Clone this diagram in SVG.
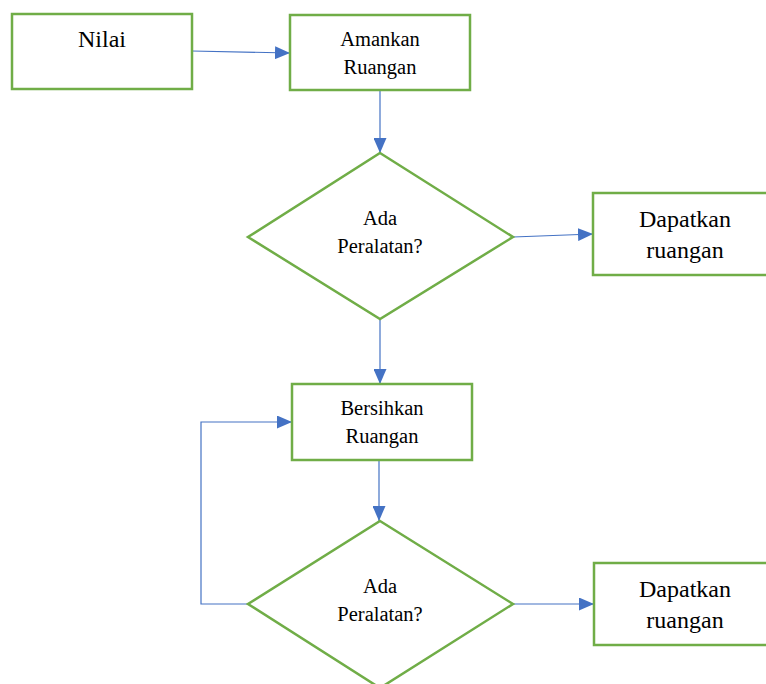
<svg xmlns="http://www.w3.org/2000/svg" width="766" height="684" viewBox="0 0 766 684">
<style>
.box{fill:#fff;stroke:#70AD47;stroke-width:2.5}
.con{fill:none;stroke:#4472C4;stroke-width:1.2}
.t{fill:#000;text-anchor:middle;font-family:'Liberation Serif','Times New Roman',serif}
.m{font-size:20.5px}
.b{font-size:24px}
</style>
<defs>
<marker id="ah" markerUnits="userSpaceOnUse" markerWidth="15" markerHeight="13" refX="15" refY="6.5" orient="auto">
<path d="M0,0 L15,6.5 L0,13 Z" fill="#4472C4"/>
</marker>
</defs>
<rect width="766" height="684" fill="#fff"/>
<g id="connectors">
<line class="con" x1="192" y1="51" x2="290" y2="53" marker-end="url(#ah)"/>
<line class="con" x1="380" y1="90" x2="380" y2="153" marker-end="url(#ah)"/>
<line class="con" x1="513" y1="237" x2="593" y2="234" marker-end="url(#ah)"/>
<line class="con" x1="380" y1="319" x2="380" y2="384" marker-end="url(#ah)"/>
<line class="con" x1="379" y1="460" x2="379" y2="521" marker-end="url(#ah)"/>
<line class="con" x1="513" y1="604" x2="594" y2="604" marker-end="url(#ah)"/>
<polyline class="con" points="248,604 201,604 201,422 292,422" marker-end="url(#ah)"/>
</g>
<g id="nilai">
<rect class="box" x="12" y="14" width="180" height="75"/>
<text class="t b" x="102" y="47">Nilai</text>
</g>
<g id="amankan">
<rect class="box" x="290" y="15" width="180" height="75"/>
<text class="t m" x="380" y="45.5">Amankan</text>
<text class="t m" x="380" y="73.5">Ruangan</text>
</g>
<g id="decision1">
<polygon class="box" points="380,153 513,237 380,319 248,237"/>
<text class="t m" x="380" y="225">Ada</text>
<text class="t m" x="380" y="253">Peralatan?</text>
</g>
<g id="dapatkan1">
<rect class="box" x="593" y="193" width="180" height="82"/>
<text class="t b" x="685" y="227">Dapatkan</text>
<text class="t b" x="685" y="258">ruangan</text>
</g>
<g id="bersihkan">
<rect class="box" x="292" y="384" width="180" height="76"/>
<text class="t m" x="382" y="415">Bersihkan</text>
<text class="t m" x="382" y="443">Ruangan</text>
</g>
<g id="decision2">
<polygon class="box" points="380,521 513,604 380,688 248,604"/>
<text class="t m" x="380" y="593">Ada</text>
<text class="t m" x="380" y="621">Peralatan?</text>
</g>
<g id="dapatkan2">
<rect class="box" x="594" y="563" width="180" height="82"/>
<text class="t b" x="685" y="597">Dapatkan</text>
<text class="t b" x="685" y="628">ruangan</text>
</g>
</svg>
